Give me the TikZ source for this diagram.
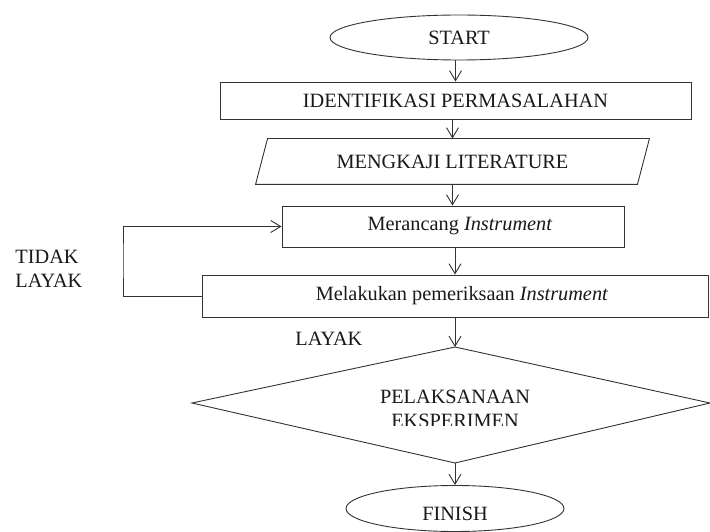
\documentclass[tikz,border=0pt]{standalone}
\usepackage{fontspec}
\setmainfont{Liberation Serif}
\usetikzlibrary{arrows.meta,shapes.geometric}
\begin{document}
\begin{tikzpicture}[x=1pt,y=-1pt,
  line width=0.9pt, lc/.style={draw=black!80},
  arr/.style={lc, -{Straight Barb[length=10pt,width=12pt,line width=0.9pt]}},
  lbl/.style={font=\fontsize{20.3}{23}\selectfont, text=black!90},
  box/.style={lc, rectangle, inner sep=0pt, lbl},
  oval/.style={lc, ellipse, inner sep=0pt, lbl},
 ]
\fill[white] (0,0) rectangle (710,532);
\useasboundingbox (0,0) rectangle (710,532);

% nodes
\node[oval, minimum width=258pt, minimum height=45pt] (start) at (459,37.5) {START};
\node[box, minimum width=471pt, minimum height=37pt] (ident) at (455.5,100.5) {IDENTIFIKASI PERMASALAHAN};
\node[lbl, inner sep=0pt, minimum width=381pt, minimum height=45pt] (lit) at (452.5,161.5) {MENGKAJI LITERATURE};
\draw[lc] ([xshift=6pt]lit.north west) -- ([xshift=6pt]lit.north east)
      -- ([xshift=-6pt]lit.south east) -- ([xshift=-6pt]lit.south west) -- cycle;
\node[box, minimum width=342pt, minimum height=41pt] (mer) at (453,226.5) {\hspace*{14pt}Merancang \textit{Instrument}};
\node[box, minimum width=506pt, minimum height=42pt] (mel) at (455,296) {\hspace*{14pt}Melakukan pemeriksaan \textit{Instrument}};

% decision
\coordinate (dtop) at (455,347);
\coordinate (dright) at (710,403);
\coordinate (dbot) at (455,463);
\coordinate (dleft) at (192,403);
\draw[lc] (dtop) -- (dright) -- (dbot) -- (dleft) -- cycle;
\node[lbl, anchor=base, inner sep=0pt] (pel) at (455,403) {PELAKSANAAN};
\begin{scope}
  \clip (192,405) rectangle (710,425);
  \node[lbl, anchor=base, inner sep=0pt] (eks) at (455,427) {EKSPERIMEN};
\end{scope}

% finish
\node[lc, ellipse, minimum width=218pt, minimum height=46pt] (finish) at (455,508.5) {};
\node[lbl, anchor=base, inner sep=0pt] (fintext) at (455,520) {FINISH};

% labels
\node[lbl, anchor=base west, inner sep=0pt] (tidak) at (15,263) {TIDAK};
\node[lbl, anchor=base west, inner sep=0pt] (layak1) at (15,287) {LAYAK};
\node[lbl, anchor=base west, inner sep=0pt] (layak2) at (295,345) {LAYAK};

% connectors
\draw[arr] (start.south -| ident.north) -- (ident.north);
\draw[arr] (ident.south -| lit.north) -- (lit.north);
\draw[arr] (lit.south) -- (lit.south |- mer.north);
\draw[arr] (mer.south -| mel.north) -- (mel.north);
\draw[arr] (mel.south) -- (dtop);
\draw[arr] (dbot) -- (finish.north);
\coordinate (lp) at (123,260);
\draw[arr] (mel.west) -| (lp) |- (mer.west);
\end{tikzpicture}
\end{document}
